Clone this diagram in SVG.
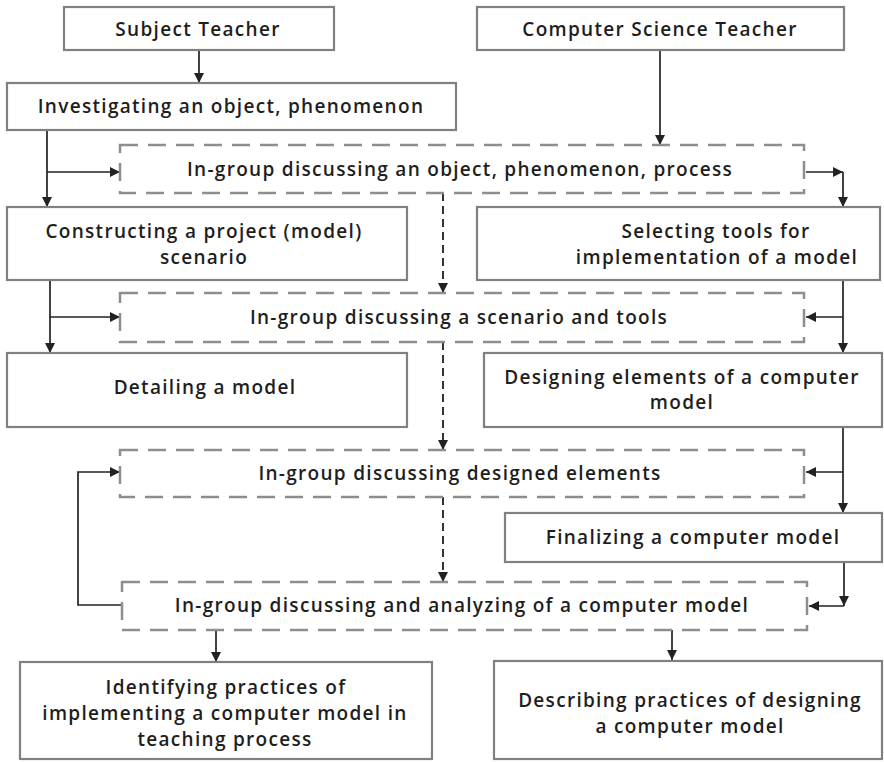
<svg xmlns="http://www.w3.org/2000/svg" width="884" height="762" viewBox="0 0 884 762">
<style>
.box{fill:#fff;stroke:#808080;stroke-width:2.2}
.dbox{fill:none;stroke:#8e8e8e;stroke-width:2.5;stroke-dasharray:18 10}
.t{font-family:"Open Sans","Liberation Sans",sans-serif;font-weight:600;font-size:19px;letter-spacing:1.3px;fill:#1e1e1e;text-anchor:middle}
.c{fill:none;stroke:#222;stroke-width:1.7}
.cd{fill:none;stroke:#333;stroke-width:2;stroke-dasharray:8 5}
</style>
<defs>
<marker id="ah" viewBox="0 0 10 10" refX="10" refY="5" markerWidth="10" markerHeight="10" markerUnits="userSpaceOnUse" orient="auto">
<path d="M0,0 L10,5 L0,10 z" fill="#222"/>
</marker>
</defs>
<rect width="884" height="762" fill="#fff"/>
<g id="connectors">
<path class="c" d="M199,50 V83" marker-end="url(#ah)"/>
<path class="c" d="M660,50 V145" marker-end="url(#ah)"/>
<path class="c" d="M47,130 V207" marker-end="url(#ah)"/>
<path class="c" d="M47,172 H120" marker-end="url(#ah)"/>
<path class="c" d="M806,172 H843" marker-end="url(#ah)"/>
<path class="c" d="M843,172 V207" marker-end="url(#ah)"/>
<path class="c" d="M50,280 V353" marker-end="url(#ah)"/>
<path class="c" d="M50,317 H120" marker-end="url(#ah)"/>
<path class="c" d="M843,280 V353" marker-end="url(#ah)"/>
<path class="c" d="M843,317 H806" marker-end="url(#ah)"/>
<path class="c" d="M843,427 V513" marker-end="url(#ah)"/>
<path class="c" d="M843,472 H806" marker-end="url(#ah)"/>
<path class="c" d="M844,562 V606" marker-end="url(#ah)"/>
<path class="c" d="M844,606 H809" marker-end="url(#ah)"/>
<path class="c" d="M122,605 H78 V472 H120" marker-end="url(#ah)"/>
<path class="c" d="M216,630 V662" marker-end="url(#ah)"/>
<path class="c" d="M672,630 V660" marker-end="url(#ah)"/>
<path class="cd" d="M443,193 V293" marker-end="url(#ah)"/>
<path class="cd" d="M443,342 V450" marker-end="url(#ah)"/>
<path class="cd" d="M443,497 V582" marker-end="url(#ah)"/>
</g>
<g id="subject-teacher"><rect class="box" x="64" y="7" width="270" height="43"/><text class="t" x="198" y="36">Subject Teacher</text></g>
<g id="cs-teacher"><rect class="box" x="477" y="7" width="367" height="43"/><text class="t" x="660" y="36">Computer Science Teacher</text></g>
<g id="investigating"><rect class="box" x="7" y="83" width="449" height="47"/><text class="t" x="231" y="113">Investigating an object, phenomenon</text></g>
<g id="discuss-object"><rect class="dbox" x="120" y="145" width="684" height="48"/><text class="t" x="460" y="176">In-group discussing an object, phenomenon, process</text></g>
<g id="constructing"><rect class="box" x="7" y="207" width="400" height="73"/><text class="t" x="204" y="238">Constructing a project (model)</text><text class="t" x="204" y="264">scenario</text></g>
<g id="selecting"><rect class="box" x="477" y="207" width="403" height="73"/><text class="t" x="716" y="238">Selecting tools for</text><text class="t" x="717" y="264">implementation of a model</text></g>
<g id="discuss-scenario"><rect class="dbox" x="120" y="293" width="684" height="49"/><text class="t" x="459" y="324">In-group discussing a scenario and tools</text></g>
<g id="detailing"><rect class="box" x="7" y="353" width="400" height="74"/><text class="t" x="205" y="394">Detailing a model</text></g>
<g id="designing"><rect class="box" x="484" y="353" width="398" height="74"/><text class="t" x="682" y="384">Designing elements of a computer</text><text class="t" x="682" y="409">model</text></g>
<g id="discuss-elements"><rect class="dbox" x="120" y="450" width="684" height="47"/><text class="t" x="460" y="480">In-group discussing designed elements</text></g>
<g id="finalizing"><rect class="box" x="505" y="513" width="377" height="49"/><text class="t" x="693" y="544">Finalizing a computer model</text></g>
<g id="discuss-analyze"><rect class="dbox" x="122" y="582" width="685" height="48"/><text class="t" x="462" y="612">In-group discussing and analyzing of a computer model</text></g>
<g id="identifying"><rect class="box" x="20" y="662" width="412" height="97"/><text class="t" x="226" y="694">Identifying practices of</text><text class="t" x="225" y="720">implementing a computer model in</text><text class="t" x="225" y="746">teaching process</text></g>
<g id="describing"><rect class="box" x="494" y="661" width="388" height="98"/><text class="t" x="690" y="707">Describing practices of designing</text><text class="t" x="690" y="733">a computer model</text></g>
</svg>
